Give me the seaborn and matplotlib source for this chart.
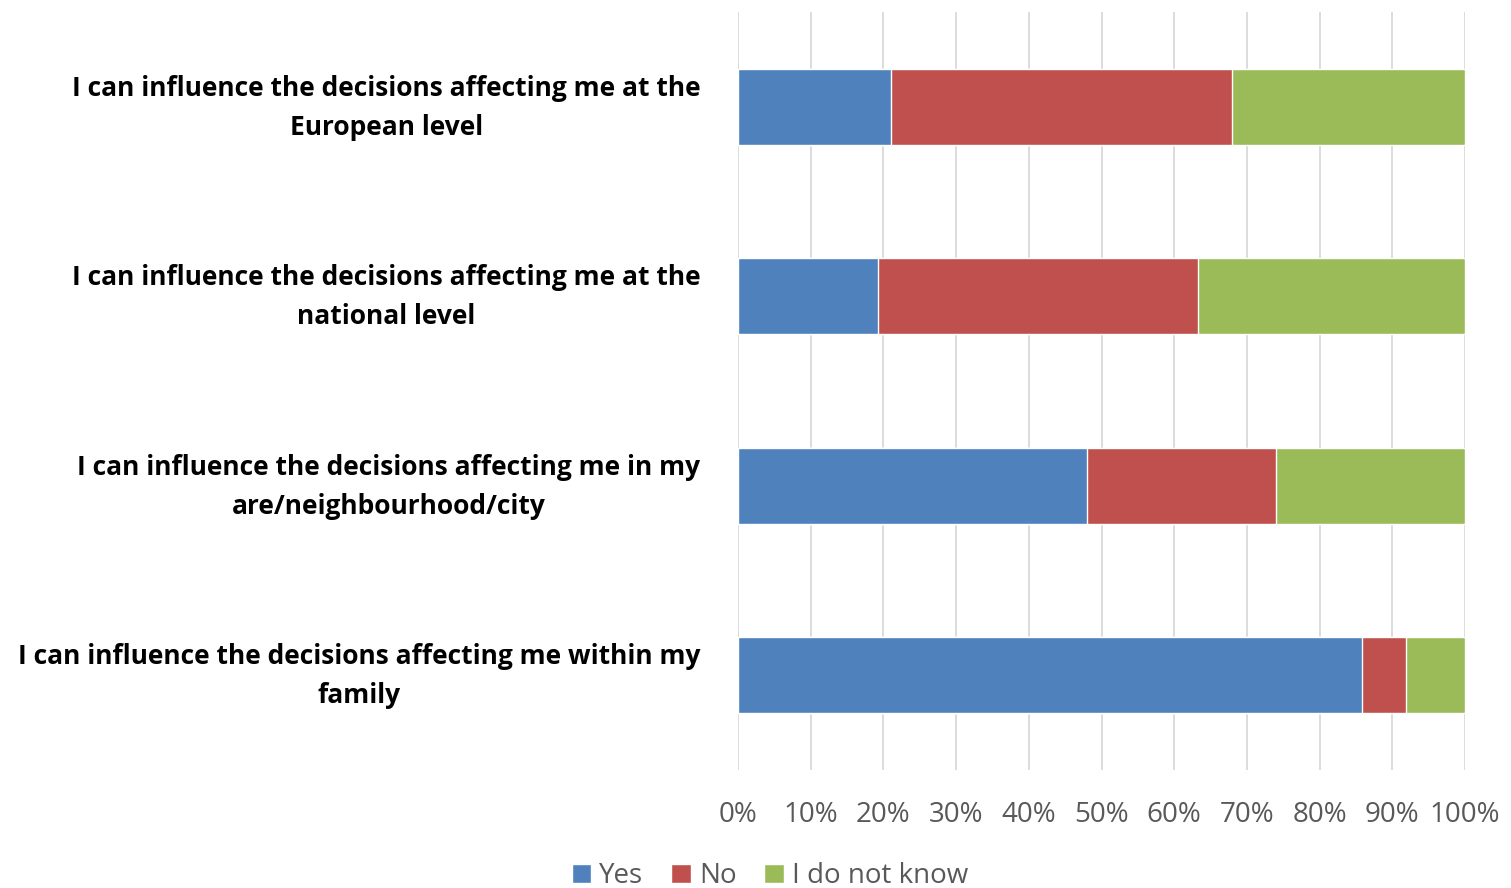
import numpy as np
import pandas as pd
import matplotlib
matplotlib.use("Agg")
import matplotlib.pyplot as plt
import matplotlib.transforms as mtransforms
import seaborn as sns
from matplotlib.patches import Patch

statements = [
    "I can influence the decisions affecting me at the\nEuropean level",
    "I can influence the decisions affecting me at the\nnational level",
    "I can influence the decisions affecting me in my\nare/neighbourhood/city",
    "I can influence the decisions affecting me within my\nfamily",
]
yes = [21.0, 19.3, 48.0, 85.9]
no = [47.0, 44.0, 26.0, 6.0]
dont_know = [32.0, 36.7, 26.0, 8.1]

series_names = ["Yes", "No", "I do not know"]
colors = ["#4F81BD", "#C0504D", "#9BBB59"]

df = pd.DataFrame({"statement": statements, "Yes": yes, "No": no, "I do not know": dont_know})
df["cum_yes"] = df["Yes"]
df["cum_no"] = df["Yes"] + df["No"]
df["cum_dk"] = df["cum_no"] + df["I do not know"]

sns.set_style("white")
plt.rcParams["font.family"] = ["Open Sans", "DejaVu Sans"]

fig = plt.figure(figsize=(15.11, 8.88), dpi=100)
ax = fig.add_axes([738 / 1511, 1 - 770 / 888, (1465 - 738) / 1511, (770 - 12) / 888])

# stacked bars: draw cumulative totals back to front
for col, c in zip(["cum_dk", "cum_no", "cum_yes"], colors[::-1]):
    sns.barplot(data=df, y="statement", x=col, orient="h", color=c,
                width=0.4, saturation=1, ax=ax, zorder=3)

ax.set_xlim(0, 100)
ax.set_ylim(3.5, -0.5)
ax.set_xticks(np.arange(0, 101, 10))
ax.set_xticklabels([f"{v}%" for v in range(0, 101, 10)], fontsize=20, color="#595959")
ax.grid(axis="x", color="#D9D9D9", linewidth=1.3, zorder=0)
ax.set_axisbelow(True)
for s in ax.spines.values():
    s.set_visible(False)
ax.tick_params(axis="x", length=0, pad=22)
ax.tick_params(axis="y", length=0, pad=27)
ax.set_xlabel("")
ax.set_ylabel("")
ax.set_yticks(range(len(statements)))
ax.set_yticklabels(statements, fontsize=19, fontweight="bold", color="black",
                   multialignment="center", linespacing=1.58)
# nudge the category labels up a little so they sit level with the bars
shift = mtransforms.ScaledTranslation(0, 8 / 100, fig.dpi_scale_trans)
for lbl in ax.get_yticklabels():
    lbl.set_transform(lbl.get_transform() + shift)

handles = [Patch(facecolor=c, label=n) for c, n in zip(colors, series_names)]
leg = fig.legend(handles=handles, loc="center", bbox_to_anchor=(770 / 1511, 1 - 876 / 888),
                 ncol=3, frameon=False, fontsize=20, handlelength=0.7, handleheight=0.7,
                 handletextpad=0.3, columnspacing=1.0)
for t in leg.get_texts():
    t.set_color("#595959")

fig.savefig("out.png", dpi=100)
